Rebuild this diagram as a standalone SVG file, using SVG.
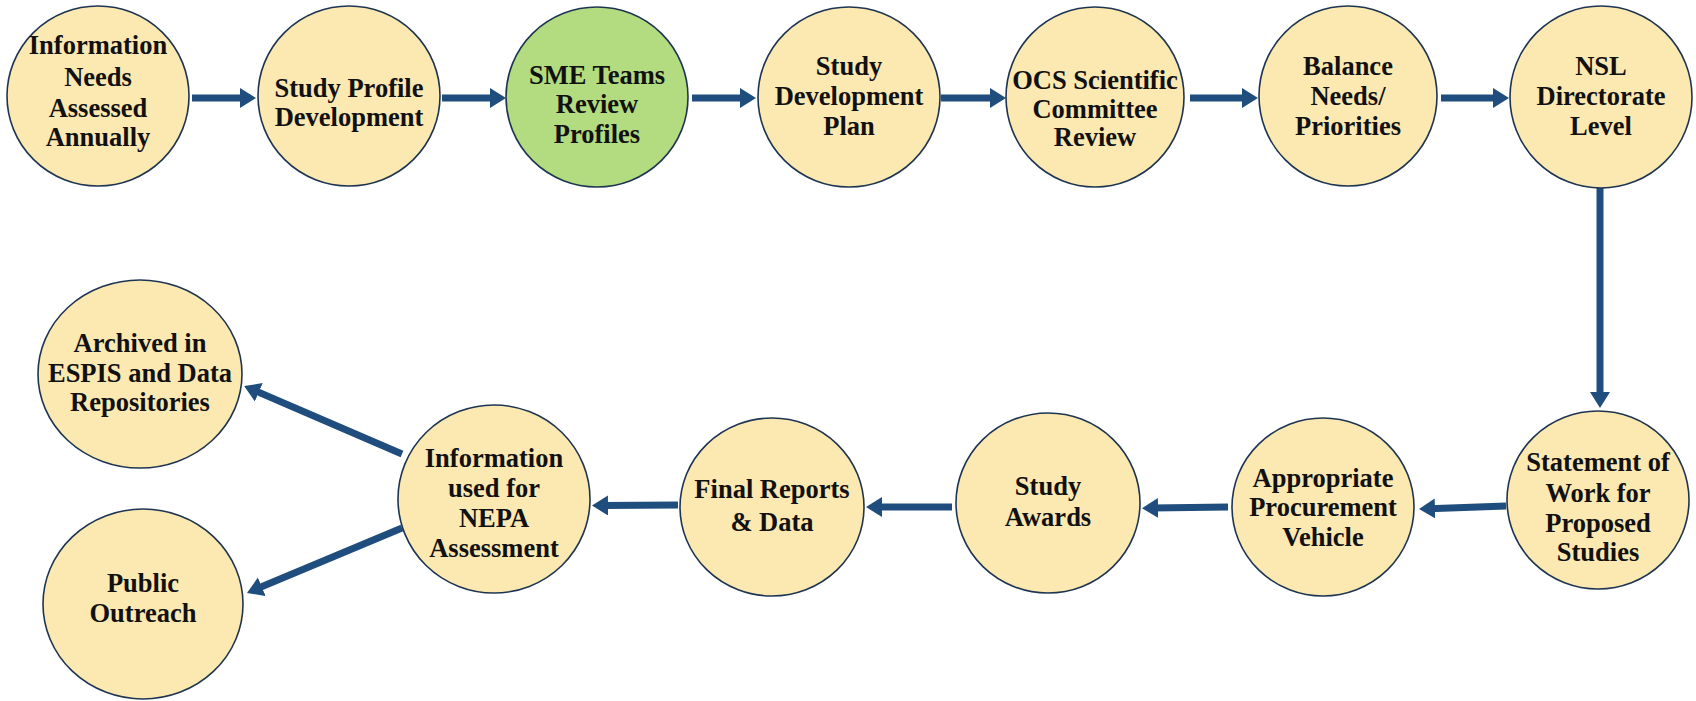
<svg xmlns="http://www.w3.org/2000/svg" width="1696" height="701" viewBox="0 0 1696 701">
<style>
.n{fill:#FCE8B1;stroke:#1E3552;stroke-width:1.6}
.g{fill:#B3DB80;stroke:#1E3552;stroke-width:1.6}
.t{font-family:"Liberation Serif","Times New Roman",serif;font-weight:bold;font-size:26.5px;fill:#111;text-anchor:middle}
.c{fill:none;stroke:#1F4D7E;stroke-width:7;marker-end:url(#ah)}
</style>
<defs>
<marker id="ah" markerUnits="userSpaceOnUse" markerWidth="18" markerHeight="22" refX="6" refY="10" orient="auto">
<path d="M0,0 L16,10 L0,20 z" fill="#1F4D7E"/>
</marker>
</defs>
<rect width="1696" height="701" fill="#fff"/>
<g id="connectors">
<path class="c" d="M192,98 H246"/>
<path class="c" d="M442,98 H496"/>
<path class="c" d="M692,98 H746"/>
<path class="c" d="M941,98 H996"/>
<path class="c" d="M1190,98 H1248"/>
<path class="c" d="M1441,98 H1499"/>
<path class="c" d="M1600,187 V398"/>
<path class="c" d="M1506,506 L1429,508.7"/>
<path class="c" d="M1228,507 L1152,508"/>
<path class="c" d="M952,507 L876,507"/>
<path class="c" d="M678,505 L602,505.5"/>
<path class="c" d="M402,454 L253.3,389.9"/>
<path class="c" d="M402,528 L256.2,589.1"/>
</g>
<g id="n1"><ellipse class="n" cx="98" cy="96" rx="91" ry="90"/>
<text class="t"><tspan x="98" y="54">Information</tspan><tspan x="98" y="86">Needs</tspan><tspan x="98" y="117">Assessed</tspan><tspan x="98" y="146">Annually</tspan></text></g>
<g id="n2"><ellipse class="n" cx="349" cy="96" rx="91" ry="90"/>
<text class="t"><tspan x="349" y="97">Study Profile</tspan><tspan x="349" y="126">Development</tspan></text></g>
<g id="n3"><ellipse class="g" cx="597" cy="97" rx="91" ry="90"/>
<text class="t"><tspan x="597" y="84">SME Teams</tspan><tspan x="597" y="113">Review</tspan><tspan x="597" y="143">Profiles</tspan></text></g>
<g id="n4"><ellipse class="n" cx="849" cy="97" rx="91" ry="90"/>
<text class="t"><tspan x="849" y="75">Study</tspan><tspan x="849" y="105">Development</tspan><tspan x="849" y="135">Plan</tspan></text></g>
<g id="n5"><ellipse class="n" cx="1095" cy="97" rx="89" ry="90"/>
<text class="t"><tspan x="1095" y="89">OCS Scientific</tspan><tspan x="1095" y="118">Committee</tspan><tspan x="1095" y="146">Review</tspan></text></g>
<g id="n6"><ellipse class="n" cx="1348" cy="96" rx="89" ry="90"/>
<text class="t"><tspan x="1348" y="75">Balance</tspan><tspan x="1348" y="105">Needs/</tspan><tspan x="1348" y="135">Priorities</tspan></text></g>
<g id="n7"><ellipse class="n" cx="1601" cy="97" rx="91" ry="91"/>
<text class="t"><tspan x="1601" y="75">NSL</tspan><tspan x="1601" y="105">Directorate</tspan><tspan x="1601" y="135">Level</tspan></text></g>
<g id="n8"><ellipse class="n" cx="1598" cy="500" rx="91" ry="89"/>
<text class="t"><tspan x="1598" y="471">Statement of</tspan><tspan x="1598" y="502">Work for</tspan><tspan x="1598" y="532">Proposed</tspan><tspan x="1598" y="561">Studies</tspan></text></g>
<g id="n9"><ellipse class="n" cx="1323" cy="507" rx="91" ry="89"/>
<text class="t"><tspan x="1323" y="487">Appropriate</tspan><tspan x="1323" y="516">Procurement</tspan><tspan x="1323" y="546">Vehicle</tspan></text></g>
<g id="n10"><ellipse class="n" cx="1048" cy="503" rx="92" ry="90"/>
<text class="t"><tspan x="1048" y="495">Study</tspan><tspan x="1048" y="526">Awards</tspan></text></g>
<g id="n11"><ellipse class="n" cx="772" cy="507" rx="92" ry="89"/>
<text class="t"><tspan x="772" y="498">Final Reports</tspan><tspan x="772" y="531">&amp; Data</tspan></text></g>
<g id="n12"><ellipse class="n" cx="494" cy="499" rx="96" ry="94"/>
<text class="t"><tspan x="494" y="467">Information</tspan><tspan x="494" y="497">used for</tspan><tspan x="494" y="527">NEPA</tspan><tspan x="494" y="557">Assessment</tspan></text></g>
<g id="n13"><ellipse class="n" cx="140" cy="374" rx="102" ry="94"/>
<text class="t"><tspan x="140" y="352">Archived in</tspan><tspan x="140" y="382">ESPIS and Data</tspan><tspan x="140" y="411">Repositories</tspan></text></g>
<g id="n14"><ellipse class="n" cx="143" cy="604" rx="100" ry="95"/>
<text class="t"><tspan x="143" y="592">Public</tspan><tspan x="143" y="622">Outreach</tspan></text></g>
</svg>
